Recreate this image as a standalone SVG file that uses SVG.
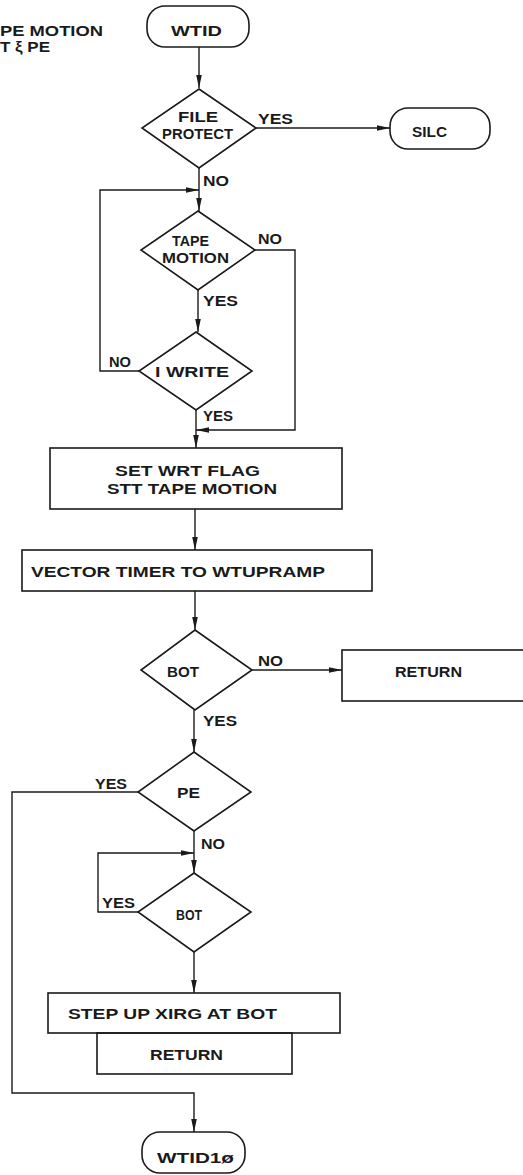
<svg xmlns="http://www.w3.org/2000/svg" width="523" height="1175" viewBox="0 0 523 1175">
<style>
.s{fill:none;stroke:#1a1a1a;stroke-width:1.6}
.c{fill:none;stroke:#1a1a1a;stroke-width:1.4}
text{font-family:"Liberation Sans","DejaVu Sans",sans-serif;font-size:14px;font-weight:bold;fill:#1a1a1a}
</style>
<defs>
<marker id="ah" markerUnits="userSpaceOnUse" markerWidth="14" markerHeight="8" refX="13" refY="4" orient="auto">
<path d="M0,1.2 L13,4 L0,6.8 z" fill="#1a1a1a"/>
</marker>
</defs>
<rect width="523" height="1175" fill="#fff"/>
<g id="note">
<text x="0" y="36" textLength="103" lengthAdjust="spacingAndGlyphs">PE MOTION</text>
<text x="0" y="52" textLength="50" lengthAdjust="spacingAndGlyphs">T ξ PE</text>
</g>
<g id="connectors" class="c">
<path d="M199,47 V88" marker-end="url(#ah)"/>
<path d="M256,128 H390" marker-end="url(#ah)"/>
<path d="M199,168 V211" marker-end="url(#ah)"/>
<path d="M139,371 H100 V190 H199" marker-end="url(#ah)"/>
<path d="M198,290 V332" marker-end="url(#ah)"/>
<path d="M255,250 H295 V430 H196" marker-end="url(#ah)"/>
<path d="M196,410 V448" marker-end="url(#ah)"/>
<path d="M195,509 V550" marker-end="url(#ah)"/>
<path d="M195,591 V630" marker-end="url(#ah)"/>
<path d="M252,670 H342" marker-end="url(#ah)"/>
<path d="M194,710 V752" marker-end="url(#ah)"/>
<path d="M138,792 H12 V1093 H194 V1132" marker-end="url(#ah)"/>
<path d="M194,831 V873" marker-end="url(#ah)"/>
<path d="M138,912 H98 V853 H194" marker-end="url(#ah)"/>
<path d="M194,952 V993" marker-end="url(#ah)"/>
</g>
<g id="labels">
<text x="258" y="124" textLength="35" lengthAdjust="spacingAndGlyphs">YES</text>
<text x="203" y="186" textLength="26" lengthAdjust="spacingAndGlyphs">NO</text>
<text x="258" y="244" textLength="24" lengthAdjust="spacingAndGlyphs">NO</text>
<text x="203" y="306" textLength="35" lengthAdjust="spacingAndGlyphs">YES</text>
<text x="109" y="367" textLength="22" lengthAdjust="spacingAndGlyphs">NO</text>
<text x="203" y="421" textLength="30" lengthAdjust="spacingAndGlyphs">YES</text>
<text x="258" y="666" textLength="25" lengthAdjust="spacingAndGlyphs">NO</text>
<text x="203" y="726" textLength="34" lengthAdjust="spacingAndGlyphs">YES</text>
<text x="95" y="789" textLength="32" lengthAdjust="spacingAndGlyphs">YES</text>
<text x="201" y="849" textLength="24" lengthAdjust="spacingAndGlyphs">NO</text>
<text x="102" y="908" textLength="33" lengthAdjust="spacingAndGlyphs">YES</text>
</g>
<g id="wtid">
<rect class="s" x="147" y="6" width="102" height="41" rx="18"/>
<text x="171" y="36" textLength="51" lengthAdjust="spacingAndGlyphs">WTID</text>
</g>
<g id="fileprotect">
<polygon class="s" points="199,89 256,128 199,168 142,128"/>
<text x="178" y="122" textLength="40" lengthAdjust="spacingAndGlyphs">FILE</text>
<text x="162" y="139" textLength="71" lengthAdjust="spacingAndGlyphs">PROTECT</text>
</g>
<g id="silc">
<rect class="s" x="390" y="108" width="100" height="41" rx="18"/>
<text x="412" y="137" textLength="35" lengthAdjust="spacingAndGlyphs">SILC</text>
</g>
<g id="tapemotion">
<polygon class="s" points="198,211 255,250 198,290 141,250"/>
<text x="172" y="246" textLength="37" lengthAdjust="spacingAndGlyphs">TAPE</text>
<text x="162" y="263" textLength="67" lengthAdjust="spacingAndGlyphs">MOTION</text>
</g>
<g id="iwrite">
<polygon class="s" points="196,332 252,371 196,410 139,371"/>
<text x="155" y="377" textLength="74" lengthAdjust="spacingAndGlyphs">I WRITE</text>
</g>
<g id="setwrt">
<rect class="s" x="50" y="448" width="292" height="61"/>
<text x="115" y="476" textLength="145" lengthAdjust="spacingAndGlyphs">SET WRT FLAG</text>
<text x="107" y="494" textLength="170" lengthAdjust="spacingAndGlyphs">STT TAPE MOTION</text>
</g>
<g id="vector">
<rect class="s" x="22" y="550" width="350" height="41"/>
<text x="31" y="577" textLength="294" lengthAdjust="spacingAndGlyphs">VECTOR TIMER TO WTUPRAMP</text>
</g>
<g id="bot1">
<polygon class="s" points="195,630 252,670 195,710 141,670"/>
<text x="167" y="677" textLength="32" lengthAdjust="spacingAndGlyphs">BOT</text>
</g>
<g id="return1">
<rect class="s" x="342" y="650" width="185" height="51"/>
<text x="395" y="677" textLength="67" lengthAdjust="spacingAndGlyphs">RETURN</text>
</g>
<g id="pe">
<polygon class="s" points="194,752 251,792 194,831 138,792"/>
<text x="177" y="798" textLength="23" lengthAdjust="spacingAndGlyphs">PE</text>
</g>
<g id="bot2">
<polygon class="s" points="194,873 251,912 194,952 138,912"/>
<text x="176" y="920" textLength="26" lengthAdjust="spacingAndGlyphs">BOT</text>
</g>
<g id="stepup">
<rect class="s" x="48" y="993" width="292" height="40"/>
<text x="68" y="1019" textLength="209" lengthAdjust="spacingAndGlyphs">STEP UP XIRG AT BOT</text>
</g>
<g id="return2">
<rect class="s" x="97" y="1033" width="195" height="41"/>
<text x="150" y="1060" textLength="73" lengthAdjust="spacingAndGlyphs">RETURN</text>
</g>
<g id="wtid10">
<rect class="s" x="142" y="1132" width="103" height="41" rx="18"/>
<text x="157" y="1163" textLength="77" lengthAdjust="spacingAndGlyphs">WTID1ø</text>
</g>
</svg>
